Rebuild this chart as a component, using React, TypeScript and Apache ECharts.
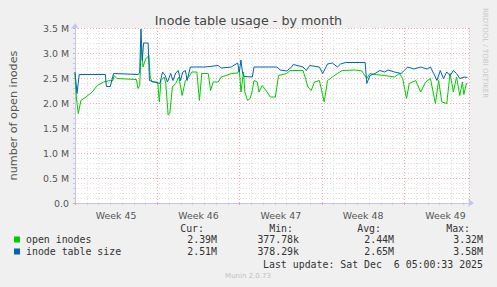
import React, { useEffect, useRef } from "react";
import * as echarts from "echarts";

// x: days since Mon Nov 3 2025 00:00 ; y: millions
const weekLabels = ["Week 45", "Week 46", "Week 47", "Week 48", "Week 49"];

const openDays = [
  0.0, 0.11, 0.28, 0.5, 0.92, 1.47, 1.89, 2.44, 3.0, 3.22, 3.33, 3.56, 5.22, 5.36, 5.5, 5.64, 5.78, 6.0, 6.28, 6.39,
  6.56, 7.03, 7.17, 7.31, 7.58, 7.72, 7.92, 8.06, 8.28, 8.56, 8.83, 9.11, 9.39, 9.67, 9.94, 10.36, 10.58, 10.78,
  11.33, 11.53, 11.75, 12.17, 12.44, 12.86, 13.28, 13.83, 13.97, 14.11, 14.33, 14.44, 14.67, 14.89, 15.08, 15.22,
  15.5, 15.64, 15.92, 16.33, 16.61, 17.03, 17.31, 18.0, 18.28, 19.39, 19.81, 20.08, 20.36, 20.78, 21.19, 21.47,
  21.89, 22.31, 22.72, 23.83, 24.39, 24.81, 25.08, 25.5, 26.33, 27.17, 27.58, 27.86, 28.19, 28.42, 28.97, 29.39,
  29.81, 30.22, 30.64, 30.92, 31.19, 31.61, 31.89, 32.17, 32.44, 32.72, 32.94, 33.06, 33.28, 33.36,
];
const openValues = [
  2.59, 2.12, 1.79, 2.05, 2.12, 2.22, 2.35, 2.42, 2.45, 2.45, 2.55, 2.49, 2.47, 2.29, 2.35, 3.15, 2.72, 2.88, 2.95, 2.52,
  2.42, 2.42, 2.02, 2.45, 2.52, 2.39, 1.76, 1.79, 2.32, 2.39, 2.52, 2.15, 2.45, 2.52, 2.62, 2.62, 2.05, 2.59,
  2.59, 2.25, 2.42, 2.42, 2.52, 2.55, 2.59, 2.6, 2.68, 2.22, 2.62, 2.22, 2.05, 2.09, 2.25, 2.45,
  2.42, 2.22, 2.35, 2.22, 2.12, 2.12, 2.55, 2.59, 2.65, 2.65, 2.32, 2.25, 2.42, 2.45, 2.02, 2.45,
  2.52, 2.59, 2.65, 2.66, 2.64, 2.49, 2.59, 2.57, 2.55, 2.52, 2.59, 2.49, 2.09, 2.39, 2.45, 2.22,
  2.42, 2.49, 1.99, 2.45, 2.02, 1.99, 2.59, 2.22, 2.52, 2.15, 2.42, 2.17, 2.39, 2.39,
];

const tableDays = [
  0.0, 0.17, 0.36, 1.61, 2.58, 2.67, 3.0, 3.28, 5.36, 5.5, 5.61, 5.72, 5.83, 6.22, 6.33, 7.03, 7.22, 7.44, 7.67, 7.86,
  8.14, 8.33, 8.56, 8.78, 8.97, 9.17, 9.39, 9.53, 9.81, 11.06, 12.17, 12.44, 13.28, 13.83, 13.97, 14.11, 14.25, 14.39,
  15.08, 15.22, 17.17, 17.45, 18.0, 18.42, 18.56, 19.39, 19.67, 19.95, 20.78, 21.06, 21.47, 21.89, 22.31, 22.58, 23.0,
  24.67, 24.81, 25.08, 25.5, 25.92, 26.33, 26.61, 27.17, 27.72, 28.0, 28.28, 28.83, 29.39, 29.94, 30.22, 30.5, 30.78,
  31.06, 31.33, 31.61, 31.89, 32.17, 32.44, 32.72, 33.14, 33.36,
];
const tableValues = [
  2.62, 2.19, 2.57, 2.57, 2.57, 2.33, 2.33, 2.59, 2.57, 2.6, 3.48, 2.85, 3.2, 3.2, 2.45, 2.4, 2.39, 2.62, 2.55, 2.42,
  2.59, 2.45, 2.6, 2.65, 2.45, 2.62, 2.65, 2.45, 2.72, 2.72, 2.75, 2.7, 2.72, 2.8, 2.62, 2.86, 2.59, 2.53,
  2.52, 2.72, 2.72, 2.66, 2.64, 2.72, 2.77, 2.72, 2.65, 2.75, 2.72, 2.59, 2.78, 2.8, 2.72, 2.78, 2.81,
  2.81, 2.39, 2.55, 2.59, 2.65, 2.62, 2.66, 2.62, 2.59, 2.65, 2.72, 2.68, 2.72, 2.68, 2.72, 2.59, 2.45,
  2.65, 2.49, 2.62, 2.55, 2.65, 2.59, 2.49, 2.52, 2.51,
];

const seriesNames = ["open inodes", "inode table size"];
const seriesColors = ["#00cc00", "#0066b3"];
const statHeaders = ["Cur:", "Min:", "Avg:", "Max:"];
const statsOpen = ["2.39M", "377.78k", "2.44M", "3.32M"];
const statsTable = ["2.51M", "378.29k", "2.65M", "3.58M"];
const lastUpdate = "Last update: Sat Dec  6 05:00:33 2025";

export default function App() {
  const ref = useRef<HTMLDivElement>(null);
  useEffect(() => {
    if (!ref.current) return;
    const chart = echarts.init(ref.current, null, { renderer: "svg" });
    const mono = "DejaVu Sans Mono";
    const sans = "DejaVu Sans";
    const headerRight = [204, 293, 381, 470];
    const valueRight = [217, 299, 394, 483];
    const rowsY = [239.5, 251.5];
    const graphic: any[] = [];
    statHeaders.forEach((h, i) => {
      graphic.push({
        type: "text", x: headerRight[i], y: 228.5,
        style: { text: h, fill: "#333", font: `9.9px '${mono}'`, textAlign: "right", textVerticalAlign: "middle" },
      });
    });
    [statsOpen, statsTable].forEach((stats, r) => {
      graphic.push({ type: "rect", shape: { x: 14, y: rowsY[r] - 3, width: 6, height: 6 }, style: { fill: seriesColors[r] } });
      graphic.push({
        type: "text", x: 26, y: rowsY[r],
        style: { text: seriesNames[r], fill: "#333", font: `9.9px '${mono}'`, textVerticalAlign: "middle" },
      });
      stats.forEach((s, i) => {
        graphic.push({
          type: "text", x: valueRight[i], y: rowsY[r],
          style: { text: s, fill: "#333", font: `9.9px '${mono}'`, textAlign: "right", textVerticalAlign: "middle" },
        });
      });
    });
    graphic.push({
      type: "text", x: 483, y: 264,
      style: { text: lastUpdate, fill: "#333", font: `9.9px '${mono}'`, textAlign: "right", textVerticalAlign: "middle" },
    });
    graphic.push({
      type: "text", x: 248, y: 276,
      style: { text: "Munin 2.0.73", fill: "#c0c0c0", font: `7px '${sans}'`, textAlign: "center", textVerticalAlign: "middle" },
    });
    graphic.push({
      type: "text", x: 485, y: 53, rotation: -Math.PI / 2,
      style: { text: "RRDTOOL / TOBI OETIKER", fill: "#c8c8c8", font: `7px '${sans}'`, textAlign: "center", textVerticalAlign: "middle" },
    });

    const axisColor = "#c4c4f0";
    chart.setOption({
      animation: false,
      backgroundColor: "#f0f0f0",
      title: {
        text: "Inode table usage - by month",
        left: "center",
        top: 9,
        textStyle: { fontFamily: sans, fontSize: 12.7, fontWeight: "normal", color: "#444" },
      },
      grid: { left: 67, right: 28, top: 28, bottom: 84, show: true, backgroundColor: "#ffffff", borderWidth: 0 },
      xAxis: [
        {
          type: "value", min: 0, max: 33.5, interval: 7,
          axisLine: { show: true, lineStyle: { color: axisColor }, symbol: ["none", "arrow"], symbolSize: [6, 6], symbolOffset: [0, 5] },
          axisTick: { show: true, length: 2, lineStyle: { color: "#f0a0a0" } },
          axisLabel: { show: false },
          splitLine: { show: true, lineStyle: { color: "#f2a8a8", type: [1, 2], width: 1 } },
          minorTick: { show: true, splitNumber: 7, length: 2, lineStyle: { color: "#cccccc" } },
          minorSplitLine: { show: true, lineStyle: { color: "#e0e0e0", type: [1, 2], width: 1 } },
        },
        {
          type: "value", min: 0, max: 33.5, interval: 3.5, position: "bottom",
          axisLine: { show: false }, axisTick: { show: false }, splitLine: { show: false },
          axisLabel: {
            show: true, showMinLabel: false, showMaxLabel: false, margin: 8,
            fontFamily: sans, fontSize: 9.4, color: "#555",
            formatter: (v: number) => {
              const k = Math.round(v / 3.5);
              if (k % 2 === 1) return weekLabels[(k - 1) / 2] || "";
              return "";
            },
          },
        },
      ],
      yAxis: {
        type: "value", min: 0, max: 3.5, interval: 0.5,
        name: "number of open inodes", nameLocation: "middle", nameGap: 56,
        nameTextStyle: { fontFamily: sans, fontSize: 11.2, color: "#555" },
        axisLine: { show: true, lineStyle: { color: axisColor }, symbol: ["none", "arrow"], symbolSize: [6, 6], symbolOffset: [0, 5] },
        axisTick: { show: true, length: 2, lineStyle: { color: "#f0a0a0" } },
        axisLabel: {
          fontFamily: sans, fontSize: 9.4, color: "#555", margin: 6,
          formatter: (v: number) => (v === 0 ? "0.0" : v.toFixed(1) + " M"),
        },
        splitLine: { show: true, lineStyle: { color: "#f2a8a8", type: [1, 2], width: 1 } },
        minorTick: { show: true, splitNumber: 5, length: 2, lineStyle: { color: "#cccccc" } },
        minorSplitLine: { show: true, lineStyle: { color: "#e0e0e0", type: [1, 2], width: 1 } },
      },
      series: [
        {
          name: seriesNames[0], type: "line", xAxisIndex: 0, showSymbol: false, symbol: "none",
          lineStyle: { color: seriesColors[0], width: 1 },
          data: openDays.map((d, i) => [d, openValues[i]]),
        },
        {
          name: seriesNames[1], type: "line", xAxisIndex: 0, showSymbol: false, symbol: "none",
          lineStyle: { color: seriesColors[1], width: 1 },
          data: tableDays.map((d, i) => [d, tableValues[i]]),
        },
      ],
      graphic,
    });
    return () => chart.dispose();
  }, []);
  return <div ref={ref} style={{ position: "fixed", left: 0, top: 0, width: 497, height: 287 }} />;
}
